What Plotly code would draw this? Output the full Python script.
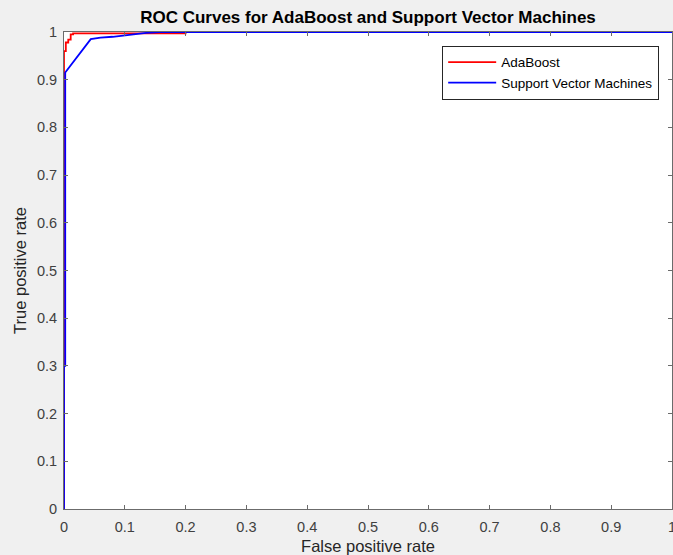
import plotly.graph_objects as go

# ROC data
ada_fpr = [0, 0, 0.003, 0.003, 0.007, 0.007, 0.011, 0.011, 0.015, 0.015, 0.2, 0.2, 1]
ada_tpr = [0, 0.96, 0.96, 0.978, 0.978, 0.984, 0.984, 0.995, 0.995, 0.997, 0.997, 1, 1]

svm_fpr = [0, 0, 0.002, 0.002, 0.044, 0.06, 0.08, 0.1, 0.116, 0.135, 0.157, 1]
svm_tpr = [0, 0.3, 0.3, 0.915, 0.985, 0.988, 0.99, 0.993, 0.996, 0.998, 1, 1]

tick_vals = [0, 0.1, 0.2, 0.3, 0.4, 0.5, 0.6, 0.7, 0.8, 0.9, 1]
tick_text = ["0", "0.1", "0.2", "0.3", "0.4", "0.5", "0.6", "0.7", "0.8", "0.9", "1"]

FONT = "Liberation Sans, Arial, Helvetica, sans-serif"

fig = go.Figure()
fig.add_trace(go.Scatter(x=ada_fpr, y=ada_tpr, mode="lines", name="AdaBoost",
                         line=dict(color="#ff0000", width=1.8)))
fig.add_trace(go.Scatter(x=svm_fpr, y=svm_tpr, mode="lines", name="Support Vector Machines",
                         line=dict(color="#0000ff", width=1.8)))

axis_common = dict(
    range=[0, 1], tickvals=tick_vals, ticktext=tick_text, automargin=False,
    showgrid=False, zeroline=False, showline=True, mirror="ticks",
    linecolor="#6b6b6b", linewidth=1, ticks="inside", ticklen=4,
    tickcolor="#6b6b6b", tickfont=dict(family=FONT, size=14.5, color="#404040"),
)

fig.update_layout(
    width=680, height=555,
    margin=dict(l=64, r=8, t=32, b=46),
    paper_bgcolor="#f0f0f0", plot_bgcolor="#ffffff",
    font=dict(family=FONT, color="#262626"),
    title=dict(text="ROC Curves for AdaBoost and Support Vector Machines",
               font=dict(family=FONT, size=17, color="#000000", weight="bold"),
               x=0.5, xref="paper", xanchor="center",
               y=1 - 17 / 555, yref="container", yanchor="middle"),
    xaxis=dict(axis_common, ticklabelstandoff=5,
               title=dict(text="False positive rate",
                          font=dict(family=FONT, size=16.5, color="#262626"), standoff=13)),
    yaxis=dict(axis_common, ticklabelstandoff=3,
               title=dict(text="True positive rate",
                          font=dict(family=FONT, size=16.5, color="#262626"), standoff=6)),
    legend=dict(x=0.622, y=0.971, xanchor="left", yanchor="top",
                bgcolor="#ffffff", bordercolor="#262626", borderwidth=1,
                font=dict(family=FONT, size=13.5, color="#000000"),
                itemwidth=48, tracegroupgap=0),
    showlegend=True,
)

fig.write_html("out.html", config={"displayModeBar": False},
               post_script="document.body.style.margin='0';"
                           "document.body.style.overflow='hidden';"
                           "document.body.style.background='#f0f0f0';")
